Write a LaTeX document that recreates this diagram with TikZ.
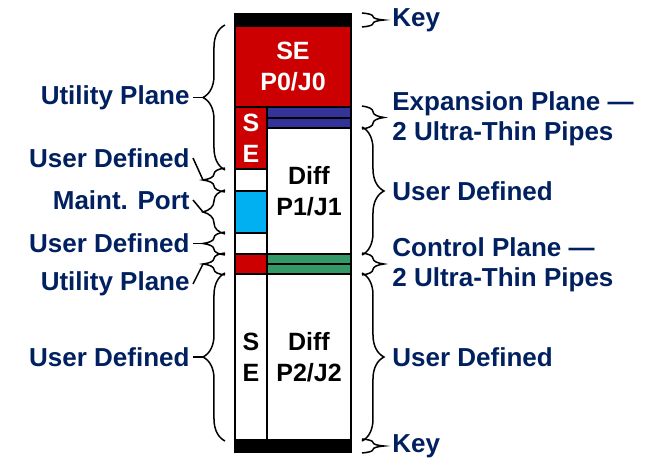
\documentclass[tikz,border=0pt]{standalone}
\usepackage{fontspec}
\setmainfont{Liberation Sans}
\usetikzlibrary{positioning, calc, decorations.pathreplacing}
\definecolor{dpnavy}{HTML}{002060}
\definecolor{dpred}{HTML}{CC0000}
\definecolor{dpblue}{HTML}{333399}
\definecolor{dpcyan}{HTML}{00B0F0}
\definecolor{dpgreen}{HTML}{339966}

\begin{document}
\begin{tikzpicture}[
      x=0.5pt, y=-0.5pt,
      cell/.style={draw, line width=1pt, anchor=north west, inner sep=0pt, align=center,
        font=\fontsize{12.5}{15.5}\selectfont\bfseries},
      lbl/.style={text=dpnavy, inner sep=1.5pt, font=\fontsize{13}{15}\selectfont\bfseries},
      lbrace/.style={decorate, decoration={brace, amplitude=11pt}, line width=0.75pt},
      link/.style={line width=0.75pt},
    ]
    \useasboundingbox (0,0) rectangle (650,459);

    % Column
    \node[cell, fill=black, minimum width=58pt, minimum height=6pt] (keytop) at (234,13) {};
    \node[cell, fill=dpred, text=white, minimum width=58pt, minimum height=40.5pt] (se0) at (234,25) {SE\\P0/J0};
    \node[cell, fill=dpred, text=white, minimum width=16pt, minimum height=31pt] (seA) at (234,106) {S\\E};
    \node[cell, fill=dpblue, minimum width=42pt, minimum height=5.5pt] (exp1) at (266,106) {};
    \node[cell, fill=dpblue, minimum width=42pt, minimum height=5pt] (exp2) at (266,117) {};
    \node[cell, fill=white, minimum width=42pt, minimum height=63pt] (diff1) at (266,127) {Diff\\P1/J1};
    \node[cell, fill=white, minimum width=16pt, minimum height=11pt] (ud1) at (234,168) {};
    \node[cell, fill=dpcyan, minimum width=16pt, minimum height=21pt] (maint) at (234,190) {};
    \node[cell, fill=white, minimum width=16pt, minimum height=10.5pt] (ud2) at (234,232) {};
    \node[cell, fill=dpred, minimum width=16pt, minimum height=10pt] (util2) at (234,253) {};
    \node[cell, fill=dpgreen, minimum width=42pt, minimum height=5pt] (ctl1) at (266,253) {};
    \node[cell, fill=dpgreen, minimum width=42pt, minimum height=5pt] (ctl2) at (266,263) {};
    \node[cell, fill=white, minimum width=16pt, minimum height=83pt] (seB) at (234,273) {S\\E};
    \node[cell, fill=white, minimum width=42pt, minimum height=83pt] (diff2) at (266,273) {Diff\\P2/J2};
    \node[cell, fill=black, minimum width=58pt, minimum height=6pt] (keybot) at (234,439) {};

    % Left braces
    \draw[lbrace] ([xshift=-4.5pt]seA.south west) -- ([xshift=-4.5pt]se0.north west);
    \draw[lbrace] ([xshift=-4.5pt]ud1.south west) -- ([xshift=-4.5pt]ud1.north west);
    \draw[lbrace] ([xshift=-4.5pt]maint.south west) -- ([xshift=-4.5pt]maint.north west);
    \draw[lbrace] ([xshift=-4.5pt]ud2.south west) -- ([xshift=-4.5pt]ud2.north west);
    \draw[lbrace] ([xshift=-4.5pt]util2.south west) -- ([xshift=-4.5pt]util2.north west);
    \draw[lbrace] ([xshift=-4.5pt]seB.south west) -- ([xshift=-4.5pt]seB.north west);

    \coordinate (tUtil0) at ($(se0.north west)!0.5!(seA.south west)+(-15.5pt,0)$);
    \coordinate (tUser1) at ($(ud1.west)+(-15.5pt,0)$);
    \coordinate (tMaint) at ($(maint.west)+(-15.5pt,0)$);
    \coordinate (tUser2) at ($(ud2.west)+(-15.5pt,0)$);
    \coordinate (tUtil2) at ($(util2.west)+(-15.5pt,0)$);
    \coordinate (tUser3) at ($(seB.west)+(-15.5pt,0)$);

    % Left labels
    \node[lbl, left=5pt of tUtil0] (lUtil0) {Utility Plane};
    \node[lbl, anchor=east] (lUser1) at (193,158) {User Defined};
    \node[lbl, anchor=east] (lMaint) at (193,200) {Maint. Port};
    \node[lbl, left=5pt of tUser2] (lUser2) {User Defined};
    \node[lbl, anchor=east] (lUtil2) at (193,284) {Utility Plane};
    \node[lbl, left=5pt of tUser3] (lUser3) {User Defined};

    \draw[link] (lUtil0.east) -- (tUtil0);
    \draw[link] (lUser1.east) -- (tUser1);
    \draw[link] (lMaint.east) -- (tMaint);
    \draw[link] (lUser2.east) -- (tUser2);
    \draw[link] (lUtil2.east) -- (tUtil2);
    \draw[link] (lUser3.east) -- (tUser3);

    % Right braces
    \draw[lbrace] ([xshift=5pt]keytop.north east) -- ([xshift=5pt]keytop.south east);
    \draw[lbrace] ([xshift=5pt]exp1.north east) -- ([xshift=5pt]exp2.south east);
    \draw[lbrace] ([xshift=5pt]diff1.north east) -- ([xshift=5pt]diff1.south east);
    \draw[lbrace] ([xshift=5pt]ctl1.north east) -- ([xshift=5pt]ctl2.south east);
    \draw[lbrace] ([xshift=5pt]diff2.north east) -- ([xshift=5pt]diff2.south east);
    \draw[lbrace] ([xshift=5pt]keybot.north east) -- ([xshift=5pt]keybot.south east);

    % Right labels
    \node[lbl, anchor=west] (rKey0) at ($(keytop.east)+(18.5pt,0)$) {Key};
    \node[lbl, anchor=west, align=left] (rExp) at ($(exp1.south east)+(18.5pt,0)$) {Expansion Plane —\\2 Ultra-Thin Pipes};
    \node[lbl, anchor=west] (rUser1) at ($(diff1.east)+(18.5pt,0)$) {User Defined};
    \node[lbl, anchor=west, align=left] (rCtl) at ($(ctl1.south east)+(18.5pt,0)$) {Control Plane —\\2 Ultra-Thin Pipes};
    \node[lbl, anchor=west] (rUser2) at ($(diff2.east)+(18.5pt,0)$) {User Defined};
    \node[lbl, anchor=west] (rKey1) at ($(keybot.east)+(18.5pt,0)$) {Key};
  \end{tikzpicture}
\end{document}
